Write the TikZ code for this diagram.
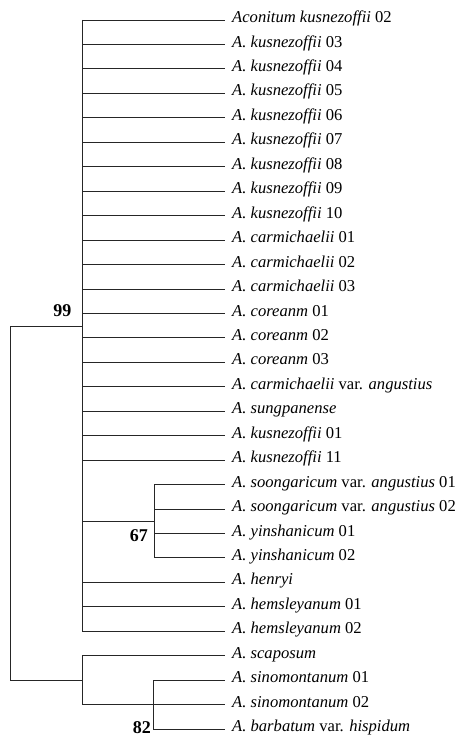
\documentclass[tikz,border=0pt]{standalone}
\usepackage{fontspec}
\setmainfont{Liberation Serif}
\begin{document}
\begin{tikzpicture}[x=1pt,y=-1pt,
  br/.style={draw=black!85, line width=0.9pt},
  leaf/.style={anchor=west, inner xsep=0pt, inner ysep=0pt, text height=1.45ex, text depth=0.3ex, font=\fontsize{16.6}{19}\selectfont},
  boot/.style={anchor=east, inner sep=0pt, font=\fontsize{18}{21}\selectfont\bfseries}]
\useasboundingbox (0,0) rectangle (461,738);
\def\rs{24.45}
\foreach \i/\t in {1/{\textit{Aconitum kusnezoffii} 02},
  2/{\textit{A. kusnezoffii} 03},3/{\textit{A. kusnezoffii} 04},4/{\textit{A. kusnezoffii} 05},
  5/{\textit{A. kusnezoffii} 06},6/{\textit{A. kusnezoffii} 07},7/{\textit{A. kusnezoffii} 08},
  8/{\textit{A. kusnezoffii} 09},9/{\textit{A. kusnezoffii} 10},
  10/{\textit{A. carmichaelii} 01},11/{\textit{A. carmichaelii} 02},12/{\textit{A. carmichaelii} 03},
  13/{\textit{A. coreanm} 01},14/{\textit{A. coreanm} 02},15/{\textit{A. coreanm} 03},
  16/{\textit{A. carmichaelii} var. \textit{angustius}},17/{\textit{A. sungpanense}},
  18/{\textit{A. kusnezoffii} 01},19/{\textit{A. kusnezoffii} 11},
  20/{\textit{A. soongaricum} var. \textit{angustius} 01},21/{\textit{A. soongaricum} var. \textit{angustius} 02},
  22/{\textit{A. yinshanicum} 01},23/{\textit{A. yinshanicum} 02},
  24/{\textit{A. henryi}},25/{\textit{A. hemsleyanum} 01},26/{\textit{A. hemsleyanum} 02},
  27/{\textit{A. scaposum}},28/{\textit{A. sinomontanum} 01},29/{\textit{A. sinomontanum} 02},
  30/{\textit{A. barbatum} var. \textit{hispidum}}}{
  \node[leaf] (l\i) at (232, {20+(\i-1)*\rs}) {\t};
  \coordinate (e\i) at (225, {20+(\i-1)*\rs});
}
% internal nodes
\coordinate (root) at (10,326.7);
\coordinate (n99) at (82,326.7);
\coordinate (n67) at (154,521.2);
\coordinate (nb) at (82,680.2);
\coordinate (n82) at (153,680.2);
% root
\draw[br] (n99) -- (root) -- (root |- nb) -- (nb);
% clade 99
\draw[br] (n99 |- e1) -- (n99 |- e26);
\foreach \i in {1,...,19,24,25,26}{ \draw[br] (n99 |- e\i) -- (e\i); }
% clade 67
\draw[br] (n99 |- n67) -- (n67);
\draw[br] (n67 |- e20) -- (n67 |- e23);
\foreach \i in {20,...,23}{ \draw[br] (n67 |- e\i) -- (e\i); }
% bottom clade
\draw[br] (nb |- e27) -- (nb |- e29);
\foreach \i in {27,29}{ \draw[br] (nb |- e\i) -- (e\i); }
\draw[br] (n82 |- e28) -- (n82 |- e30);
\foreach \i in {28,30}{ \draw[br] (n82 |- e\i) -- (e\i); }
% bootstrap values
\node[boot] (b99) at (71.5,310.7) {99};
\node[boot] (b67) at (148,536) {67};
\node[boot] (b82) at (151,727.5) {82};
\end{tikzpicture}
\end{document}
